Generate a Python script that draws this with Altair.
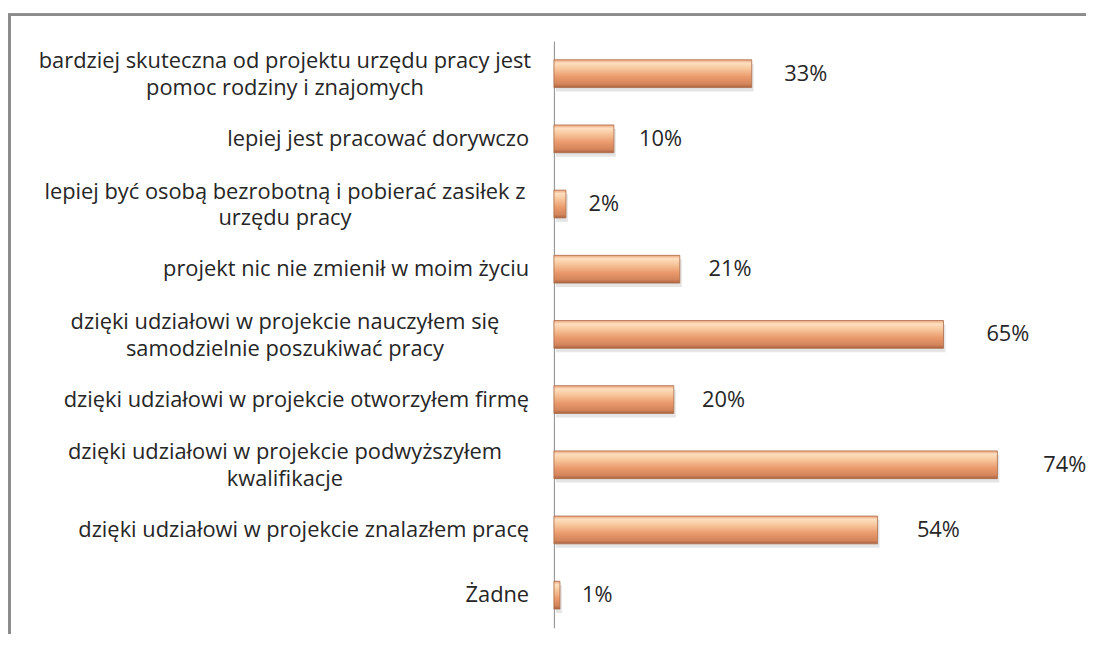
import altair as alt
import pandas as pd

label_lines = [
    ["bardziej skuteczna od projektu urzędu pracy jest", "pomoc rodziny i znajomych"],
    ["lepiej jest pracować dorywczo "],
    ["lepiej być osobą bezrobotną i pobierać zasiłek z", "urzędu pracy"],
    ["projekt nic nie zmienił w moim życiu"],
    ["dzięki udziałowi w projekcie nauczyłem się", "samodzielnie poszukiwać pracy"],
    ["dzięki udziałowi w projekcie otworzyłem firmę"],
    ["dzięki udziałowi w projekcie podwyższyłem ", "kwalifikacje"],
    ["dzięki udziałowi w projekcie znalazłem pracę"],
    ["Żadne"],
]
values = [33, 10, 2, 21, 65, 20, 74, 54, 1]

keys = [" ".join(l) for l in label_lines]
df = pd.DataFrame({
    "key": keys,
    "lines": label_lines,
    "nlines": [len(l) for l in label_lines],
    "value": values,
})

FONT = "Open Sans"
FS = 22
W, H = 483, 591

yscale = alt.Scale(paddingInner=0.574, paddingOuter=0.287)
y_axis = alt.Axis(title=None, labels=False, ticks=False,
                  domainColor="#9a9a9a", domainWidth=1.2)
y_enc = alt.Y("key:N", sort=None, scale=yscale, axis=y_axis)
x_bar = alt.X("value:Q", scale=alt.Scale(domain=[0, 80]), axis=None)

base = alt.Chart(df)

gradient = alt.Gradient(
    gradient="linear", x1=0, y1=0, x2=0, y2=1,
    stops=[
        alt.GradientStop(offset=0, color="#EDA27A"),
        alt.GradientStop(offset=0.12, color="#FDDFBF"),
        alt.GradientStop(offset=0.32, color="#F7C69C"),
        alt.GradientStop(offset=0.62, color="#EA9A6C"),
        alt.GradientStop(offset=0.88, color="#D3845A"),
        alt.GradientStop(offset=1, color="#A96241"),
    ],
)

shadow = base.mark_bar(color="#000000", opacity=0.10, yOffset=4, xOffset=2).encode(
    x=x_bar, y=y_enc)
bars = base.mark_bar(color=gradient, stroke="#AC6C48", strokeWidth=0.8).encode(
    x=x_bar, y=y_enc)

value_text = base.transform_calculate(lbl="datum.value + '%'").mark_text(
    align="left", baseline="middle", dx=22, font=FONT, fontSize=FS, color="#262626"
).encode(
    x=alt.X("value:Q", scale=alt.Scale(domain=[0, 75.9]), axis=None),
    y=y_enc, text="lbl:N")

single = base.transform_filter("datum.nlines == 1").mark_text(
    align="right", baseline="middle", font=FONT, fontSize=FS, color="#262626"
).encode(x=alt.value(-25), y=y_enc, text="key:N")

double = base.transform_filter("datum.nlines == 2").mark_text(
    align="center", baseline="middle", font=FONT, fontSize=FS, color="#262626",
    lineHeight=27, dy=-12.5
).encode(x=alt.value(-271), y=y_enc, text="lines")

frame_left = alt.Chart(df).mark_rule(color="#8c8c8c", strokeWidth=3).encode(
    x=alt.value(-548.5), y=alt.value(-26), y2=alt.value(800))
frame_top = alt.Chart(df).mark_rule(color="#8c8c8c", strokeWidth=2).encode(
    y=alt.value(-26.5), x=alt.value(-550), x2=alt.value(900))

chart = alt.layer(
    frame_left, frame_top, shadow, bars, single, double, value_text
).resolve_scale(x="independent").properties(
    width=W, height=H,
    padding={"left": 550, "top": 31, "right": 53, "bottom": 4},
    autosize=alt.AutoSizeParams(type="none"),
    background="#FFFFFF",
).configure_view(stroke=None)

chart.save("out.html", embed_options={"renderer": "svg", "actions": False})
